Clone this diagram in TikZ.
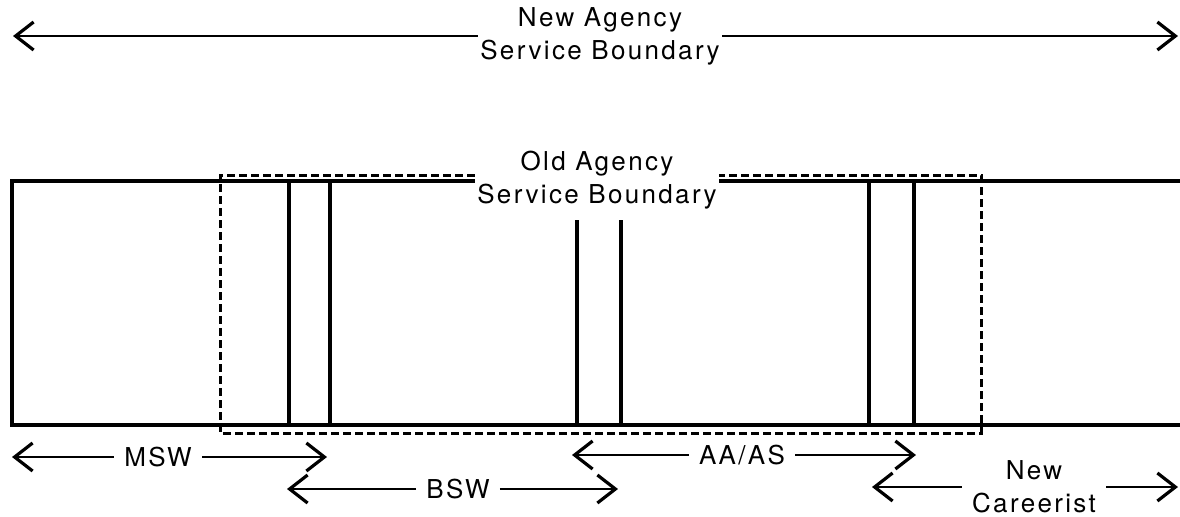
\documentclass[tikz,border=0pt]{standalone}
\usepackage{fontspec}
\setmainfont[LetterSpace=9]{TeX Gyre Heros}
\usetikzlibrary{arrows.meta}

\begin{document}
\begin{tikzpicture}[x=0.5pt,y=-0.5pt,
    boxline/.style={line width=1.7pt},
    oldline/.style={line width=1.5pt,dash pattern=on 4pt off 2pt},
    span/.style={line width=1.2pt,-{Straight Barb[length=9pt,width=14pt,line width=1.6pt]}},
    lbl/.style={font=\fontsize{13pt}{16.5pt}\selectfont,align=center,inner sep=5pt}]

    \useasboundingbox (0,0) rectangle (1180,516);

    % new boundary
    \node[lbl,inner sep=1pt] (newb) at (600,36) {New Agency\\Service Boundary};
    \coordinate (newL) at (13,36);
    \coordinate (newR) at (1178,36);
    \draw[span] (newb) -- (newL);
    \draw[span] (newb) -- (newR);

    % old boundary and the worker band
    \node[lbl,inner sep=1pt] (oldb) at (597,180) {Old Agency\\Service Boundary};
    \coordinate (boxTL) at (12,181);
    \coordinate (boxBL) at (12,425);
    \coordinate (boxTR) at (1180,181);
    \coordinate (boxBR) at (1180,425);
    \draw[boxline] (oldb.west |- boxTL) -- (boxTL) -- (boxBL) -- (boxBR);
    \draw[boxline] (oldb.east |- boxTR) -- (boxTR);
    \foreach \x in {289,330,869,914}
        \draw[boxline] (\x,181) -- (\x,425);
    \foreach \x in {577,621}
        \draw[boxline] (\x,220) -- (\x,425);

    \coordinate (oldTL) at (220,175);
    \coordinate (oldBL) at (220,433);
    \coordinate (oldBR) at (981,433);
    \coordinate (oldTR) at (981,175);
    \draw[oldline] (oldb.west |- oldTL) -- (oldTL) -- (oldBL) -- (oldBR) -- (oldTR) -- (oldb.east |- oldTR);

    % worker ranges
    \node[lbl] (msw) at (158,457) {MSW};
    \coordinate (mswL) at (12,457);
    \coordinate (mswR) at (327,457);
    \draw[span] (msw) -- (mswL);
    \draw[span] (msw) -- (mswR);

    \node[lbl] (bsw) at (458,489) {BSW};
    \coordinate (bswL) at (287,489);
    \coordinate (bswR) at (618,489);
    \draw[span] (bsw) -- (bswL);
    \draw[span] (bsw) -- (bswR);

    \node[lbl] (aaas) at (742,455) {AA/AS};
    \coordinate (aaasL) at (572,455);
    \coordinate (aaasR) at (916,455);
    \draw[span] (aaas) -- (aaasL);
    \draw[span] (aaas) -- (aaasR);

    \node[lbl] (newc) at (1034,487) {New\\Careerist};
    \coordinate (newcL) at (872,487);
    \coordinate (newcR) at (1178,487);
    \draw[span] (newc) -- (newcL);
    \draw[span] (newc) -- (newcR);

\end{tikzpicture}
\end{document}
